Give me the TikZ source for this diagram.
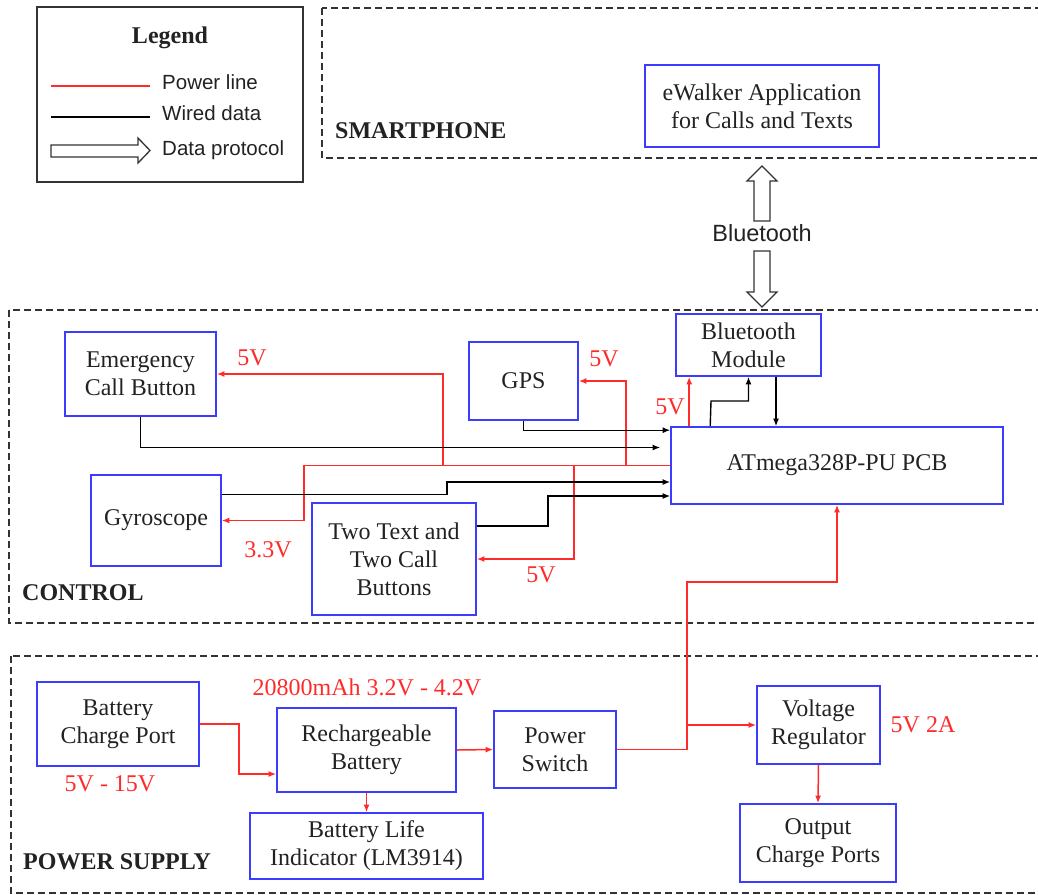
\documentclass[tikz,border=0pt]{standalone}
\usepackage{fontspec}
\setmainfont{Liberation Serif}
\setsansfont{Liberation Sans}
\usetikzlibrary{arrows.meta,calc}
\definecolor{bblue}{HTML}{3C3CFF}
\definecolor{pwred}{HTML}{FF2B2B}
\definecolor{ink}{HTML}{222222}
\definecolor{dgray}{HTML}{333333}

\begin{document}
\begin{tikzpicture}[x=1pt,y=-1pt,>={Latex[length=7.5pt,width=6pt]},
  every node/.style={font=\fontsize{24}{28}\selectfont,text=ink,inner sep=0pt},
  box/.style={draw=bblue,line width=1.6pt,align=center},
  area/.style={draw=dgray,line width=1.4pt,dash pattern=on 7pt off 4pt},
  pwr/.style={->,pwred,line width=1.5pt},
  dat/.style={->,black,line width=1.4pt},
  volt/.style={text=pwred},
  title/.style={anchor=west,font=\bfseries\fontsize{24}{28}\selectfont},
  fat/.style={draw=dgray,line width=1.3pt,fill=white},
  legtext/.style={anchor=west,font=\sffamily\fontsize{20.5}{24}\selectfont}]
\useasboundingbox (0,0) rectangle (1038,894);
\clip (0,0) rectangle (1038,894);
% zones
\draw[area] (322,8) rectangle (1060,158);
\draw[area] (9,310) rectangle (1060,623);
\draw[area] (11,656) rectangle (1060,893);
\node[title] (tsm) at (335,131) {SMARTPHONE};
\node[title] (tco) at (22,593) {CONTROL};
\node[title] (tps) at (23,862) {POWER SUPPLY};
% legend
\draw[dgray,line width=1.3pt] (37,7) rectangle (303,182);
\node[font=\bfseries\fontsize{24}{28}\selectfont] (leg) at (170,38) {Legend};
\foreach \y/\col/\lab/\nm in {86/pwred/Power line/lp,117/black/Wired data/lw}{
\draw[\col,line width=1.3pt] (51,\y)--(150,\y);
\node[legtext] (\nm) at (162,\y-4) {\lab};}
\draw[fat] (51,145)--(138,145)--(138,138)--(150,150.5)--(138,163)--(138,157)--(51,157)--cycle;
\node[legtext] (ld) at (162,150) {Data protocol};
% blocks
\foreach \n/\x/\y/\w/\h/\t in {
  ewalk/762/106/234/82/{eWalker Application\\for Calls and Texts},
  btmod/748.5/345/145/62/{Bluetooth\\Module},
  emerg/140.5/374/151/84/{Emergency\\Call Button},
  gps/523.5/381/109/78/{GPS},
  gyro/156/520.5/130/91/{Gyroscope},
  twotext/394/559/164/112/{Two Text and\\Two Call\\Buttons},
  chgport/118/724/162/84/{Battery\\Charge Port},
  rbatt/366.5/750/179/84/{Rechargeable\\Battery},
  pswitch/555/749.5/122/77/{Power\\Switch},
  vreg/818.5/725/123/78/{Voltage\\Regulator},
  bli/366.5/846/233/66/{Battery Life\\Indicator (LM3914)},
  outp/818/843/156/78/{Output\\Charge Ports},
  atmega/837/465.5/332/77/{ATmega328P-PU PCB}}
  \node[box,minimum width=\w pt,minimum height=\h pt] (\n) at (\x,\y) {\t};
% bluetooth link
\node[font=\sffamily\fontsize{23.5}{28}\selectfont] (btl) at (762,233) {Bluetooth};
\draw[fat] (754,221)--(754,181)--(747,181)--(762,166)--(777,181)--(770,181)--(770,221)--cycle;
\draw[fat] (754,251)--(770,251)--(770,292)--(777,292)--(762,307)--(747,292)--(754,292)--cycle;
% voltages
\node[volt] (v1) at (252,358) {5V};
\node[volt] (v2) at (604,359) {5V};
\node[volt] (v3) at (670,407) {5V};
\node[volt] (v4) at (268,550) {3.3V};
\node[volt] (v5) at (541,575) {5V};
\node[volt] (v6) at (367,687) {20800mAh 3.2V - 4.2V};
\node[volt] (v7) at (110,784) {5V - 15V};
\node[volt] (v8) at (923,725) {5V 2A};
% power bus from the PCB
\coordinate (tapE) at (443,465.5);
\coordinate (tapB) at (574,465.5);
\coordinate (tapG) at (626,465.5);
\draw[pwr] (atmega.west)--(304,465.5)|-(gyro.east);
\draw[pwr] (tapE)|-(emerg.east);
\draw[pwr] (tapB)|-(twotext.east);
\draw[pwr] (tapG)|-(gps.east);
\draw[pwr] ($(atmega.north west)+(19,0)$) coordinate (bp)--(bp|-btmod.south);
% wired data
\draw[dat] (emerg.south)|-($(atmega.west)+(-10,-18)$);
\draw[dat] (gps.south)|-($(atmega.north west)+(0,4)$);
\draw[dat] ($(gyro.east)+(0,-26)$)--(447,494.5)|-($(atmega.west)+(0,16.5)$);
\draw[dat] ($(twotext.east)+(0,-33)$)--(548,526)|-($(atmega.west)+(0,30.5)$);
\draw[dat] ($(atmega.north west)+(40,0)$)--(711,401)-|(btmod.south);
\draw[dat] ($(btmod.south)+(27.5,0)$) coordinate (bd)--(bd|-atmega.north);
% power supply
\draw[pwr] (chgport.east)--(239,724)|-($(rbatt.west)+(0,24)$);
\draw[pwr] (rbatt.east)--(pswitch.west);
\draw[pwr] (rbatt.south)--(bli.north);
\draw[pwr] (pswitch.east)--(687,749.5)|-(vreg.west);
\coordinate (jct) at (687,725);
\draw[pwr] (jct)--(687,582)-|(atmega.south);
\draw[pwr] (vreg.south)--(outp.north);
\end{tikzpicture}
\end{document}
